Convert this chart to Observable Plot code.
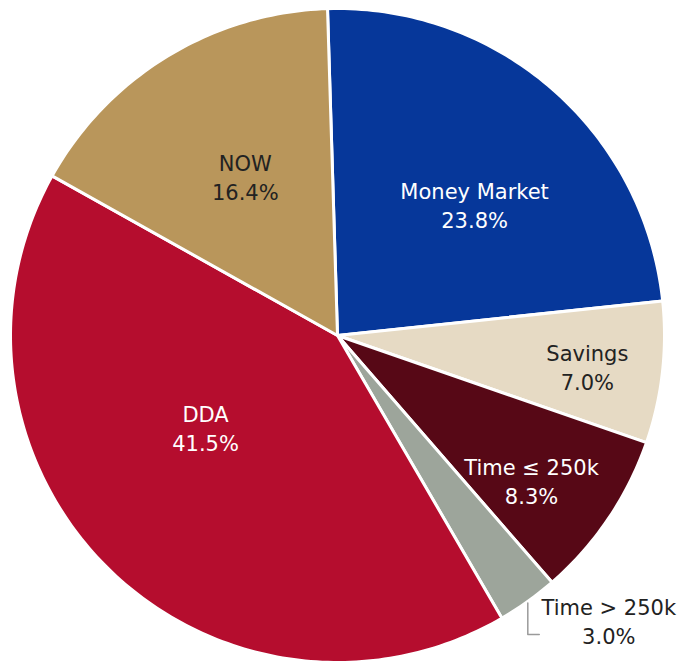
<!DOCTYPE html>
<html><head><meta charset="utf-8">
<script src="https://cdn.jsdelivr.net/npm/d3@7"></script>
<script src="https://cdn.jsdelivr.net/npm/@observablehq/plot@0.6"></script>
<style>body{margin:0;background:#fff}</style>
</head><body><div id="chart"></div>
<script>
// ---- data ----
const categories = ["Money Market", "Savings", "Time ≤ 250k", "Time > 250k", "DDA", "NOW"];
const shares = [23.8, 7.0, 8.3, 3.0, 41.5, 16.4];
const percentLabels = ["23.8%", "7.0%", "8.3%", "3.0%", "41.5%", "16.4%"];

// ---- styling / layout (not data) ----
const colors = ["#06379A", "#E6DAC4", "#570816", "#9DA59B", "#B50D2E", "#B9965B"];
const textColors = ["white", "#222", "white", "#222", "white", "#222"];
const labelPolar = [[46.3, 0.58], [97.1, 0.77], [126.8, 0.741], [136.4, 1.203], [235.1, 0.492], [329.9, 0.562]];
const W = 688, H = 664, cx = 337, cy = 335, R = 327;
const startAngle = -1.75; // degrees clockwise from 12 o'clock

const rad = d => d * Math.PI / 180;
const total = d3.sum(shares);
let acc = 0;
const slices = categories.map((name, i) => {
  const a0 = startAngle + acc / total * 360;
  acc += shares[i];
  const a1 = startAngle + acc / total * 360;
  return {name, a0, a1, i};
});

const polyPts = [];
for (const s of slices) {
  polyPts.push({name: s.name, x: 0, y: 0});
  const n = Math.max(2, Math.ceil(s.a1 - s.a0));
  for (let k = 0; k <= n; k++) {
    const a = rad(s.a0 + (s.a1 - s.a0) * k / n);
    polyPts.push({name: s.name, x: Math.sin(a), y: Math.cos(a)});
  }
  polyPts.push({name: s.name, x: 0, y: 0});
}

const labels = slices.map(s => {
  const [ang, rf] = labelPolar[s.i];
  return {name: s.name, text: s.name + "\n" + percentLabels[s.i],
          x: Math.sin(rad(ang)) * rf, y: Math.cos(rad(ang)) * rf, color: textColors[s.i]};
});

// leader line for the small "Time > 250k" slice
const small = slices[3];
const mid = rad((small.a0 + small.a1) / 2);
const lx = Math.sin(mid) * 1.0, ly = Math.cos(mid) * 1.0;
const labY = (cy - 634) / R;
const leader = [{x: lx, y: ly - 0.005}, {x: lx, y: labY}, {x: lx + 0.035, y: labY}];

const chart = Plot.plot({
  width: W, height: H, margin: 0,
  style: {fontFamily: "DejaVu Sans", background: "white"},
  x: {domain: [-cx / R, (W - cx) / R], axis: null},
  y: {domain: [-(H - cy) / R, cy / R], axis: null},
  color: {domain: categories, range: colors},
  marks: [
    Plot.line(polyPts, {x: "x", y: "y", z: "name", fill: "name", stroke: "white", strokeWidth: 3, strokeLinejoin: "round", curve: "linear"}),
    Plot.line(leader, {x: "x", y: "y", stroke: "#9a9a9a", strokeWidth: 1.5}),
    Plot.text(labels.filter(d => d.color === "white"), {x: "x", y: "y", text: "text", fill: "white", fontSize: 21, lineHeight: 1.38}),
    Plot.text(labels.filter(d => d.color !== "white"), {x: "x", y: "y", text: "text", fill: "#222", fontSize: 21, lineHeight: 1.38})
  ]
});
document.getElementById("chart").appendChild(chart);
</script>
</body></html>
